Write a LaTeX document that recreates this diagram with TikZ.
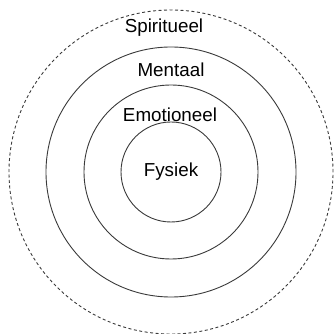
\documentclass[tikz,border=0pt]{standalone}
\usepackage{fontspec}
\setmainfont{Liberation Sans}
\usetikzlibrary{positioning}
\definecolor{ringgray}{HTML}{3A3A3A}
\definecolor{txtblack}{HTML}{000000}

\begin{document}
\begin{tikzpicture}[x=1pt, y=1pt, line width=0.9pt,
  ring/.style={draw=ringgray},
  lbl/.style={font=\fontsize{18.8}{22}\selectfont, text=txtblack, inner sep=0pt}]

% Canvas
\useasboundingbox (0,0) rectangle (333,334);
\coordinate (ctr) at (171,162);

% --- Rings (inner to outer) ---
\draw[ring] (ctr) circle (50);
\draw[ring] (ctr) circle (87);
\draw[ring] (ctr) circle (125);
\draw[ring, dashed, dash pattern=on 3pt off 2.5pt] (ctr) circle (162);

% --- Labels ---
\node[lbl] (fysiek) at (171,162) {Fysiek};
\node[lbl] (emotioneel) at (170,219) {Emotioneel};
\node[lbl] (mentaal) at (171,264) {Mentaal};
\node[lbl] (spiritueel) at (164,306) {Spiritueel};

\end{tikzpicture}
\end{document}
